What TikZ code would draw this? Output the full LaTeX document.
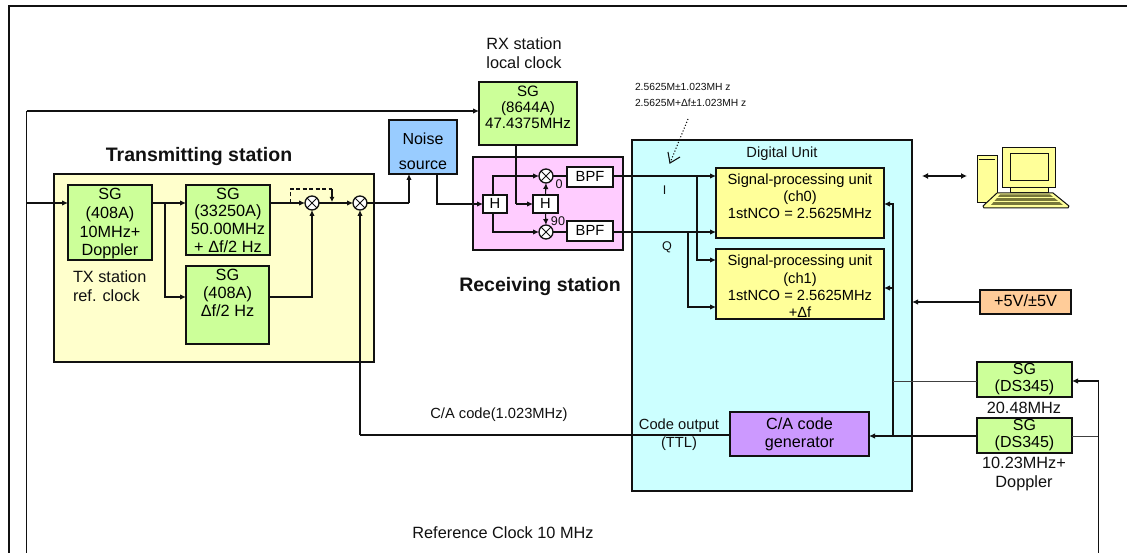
\documentclass[tikz,border=0pt]{standalone}
\usepackage{fontspec}
\setmainfont{Liberation Sans}
\usetikzlibrary{arrows.meta}
\definecolor{panelY}{HTML}{FFFFCC}
\definecolor{sgG}{HTML}{CCFF99}
\definecolor{noiseB}{HTML}{99CCFF}
\definecolor{pinkP}{HTML}{FFCCFF}
\definecolor{cyanD}{HTML}{CCFFFF}
\definecolor{sigY}{HTML}{FFFF99}
\definecolor{purpC}{HTML}{CC99FF}
\definecolor{orngV}{HTML}{FFCC99}
\definecolor{inkK}{HTML}{111111}
\definecolor{olv}{HTML}{77773A}
% #1 = font size, #2 = vertical offset, #3 = line distance, #4 = lines
\newcommand{\tl}[4][14.7]{\raisebox{\dimexpr#2pt-5pt\relax}[0pt][0pt]{\fontsize{#1pt}{#3pt}\selectfont\begin{tabular}{@{}c@{}}#4\end{tabular}}}
\tikzset{
  x=1pt,y=-1pt,
  base/.style={draw=inkK,inner sep=0pt,outer sep=0pt,line width=1.9pt,anchor=center},
  block/.style n args={3}{base,fill=#1,minimum width=#2pt,minimum height=#3pt},
  lbl/.style={inner sep=0pt,outer sep=0pt,font=\fontsize{14.7pt}{18pt}\selectfont,text=inkK,align=center},
  big/.style={lbl,font=\fontsize{16.3pt}{18pt}\selectfont},
  small/.style={lbl,font=\fontsize{10.3pt}{16pt}\selectfont,align=left},
  head/.style={lbl,font=\fontsize{19.5pt}{22pt}\selectfont\bfseries},
  wire/.style={draw=inkK,line width=1.1pt},
  arr/.style={wire,-{Latex[length=6pt,width=5.5pt]}},
  mixer/.style={circle,draw=inkK,fill=white,line width=1.3pt,minimum size=14pt,inner sep=0pt,outer sep=0pt,
    path picture={\draw[line width=1pt,draw=inkK]
      (path picture bounding box.north west)--(path picture bounding box.south east)
      (path picture bounding box.north east)--(path picture bounding box.south west);}},
}
\begin{document}
\begin{tikzpicture}
\useasboundingbox (0,0) rectangle (1127,553);
\fill[white] (0,0) rectangle (1127,553);
% frame
\coordinate (fa) at (9,553); \coordinate (fb) at (9,6); \coordinate (fc) at (1127,6);
\draw[draw=inkK,line width=1.8pt] (fa)--(fb)--(fc);
% panels
\node[base,fill=panelY,line width=1.2pt,minimum width=320pt,minimum height=188pt] (tx) at (214,268) {};
\node[base,fill=pinkP,minimum width=150pt,minimum height=93pt] (rx) at (548,203.5) {};
\node[base,fill=cyanD,minimum width=280pt,minimum height=351pt] (du) at (772,315.5) {};
% TX blocks
\node[block={sgG}{84}{75}] (sg1) at (110,222.5) {\tl[16.2]{-1}{18.7}{SG\\(408A)\\10MHz+\\Doppler}};
\node[block={sgG}{84}{70}] (sg2) at (228,220) {\tl[16.3]{-1.5}{17.6}{SG\\(33250A)\\50.00MHz\\+ Δf/2 Hz}};
\node[block={sgG}{83}{78}] (sg3) at (227.5,305) {\tl[16.3]{11}{18}{SG\\(408A)\\Δf/2 Hz}};
\node[mixer] (m1) at (312,203) {};
\node[mixer] (m2) at (360,203) {};
% RX blocks
\node[block={noiseB}{68}{54}] (noise) at (423,147) {\tl[16]{-4}{25.5}{Noise\\source}};
\node[block={sgG}{98}{63}] (sg4) at (528,113.5) {\tl[15.1]{5.5}{16}{SG\\(8644A)\\47.4375MHz}};
\node[block={white}{24}{18},line width=1.2pt] (h1) at (495,204) {\tl{0}{18}{H}};
\node[block={white}{25}{18},line width=1.2pt] (h2) at (545.5,204) {\tl{0}{18}{H}};
\node[mixer] (m3) at (546,176) {};
\node[mixer] (m4) at (546,232) {};
\node[block={white}{46}{20}] (bpf1) at (590,177) {\tl{0}{18}{BPF}};
\node[block={white}{46}{20}] (bpf2) at (590,231) {\tl{0}{18}{BPF}};
% digital blocks
\node[block={sigY}{168}{70}] (sig0) at (800,203) {\tl{6}{17}{Signal-processing unit\\(ch0)\\1stNCO = 2.5625MHz}};
\node[block={sigY}{168}{70}] (sig1) at (800,284) {\tl{-3}{17.3}{Signal-processing unit\\(ch1)\\1stNCO = 2.5625MHz\\+Δf}};
\node[block={purpC}{139}{44}] (ca) at (799.5,434) {\tl[16.2]{0}{18.5}{C/A code\\generator}};
\node[block={orngV}{91}{24}] (pw) at (1025.5,302) {\tl[16.3]{0}{18}{+5V/±5V}};
\node[block={sgG}{95}{35}] (ds1) at (1024.5,379.5) {\tl[16]{0.5}{16}{SG\\(DS345)}};
\node[block={sgG}{95}{35}] (ds2) at (1024.5,435.5) {\tl[16]{0.5}{16}{SG\\(DS345)}};
% named free ends
\coordinate (rL) at (26.5,553);
\coordinate (rT) at (26.5,111);
\coordinate (rR) at (1098.5,553);
\coordinate (jTX) at (165,203);
\coordinate (yMix) at (312,297);
\coordinate (d0) at (290.5,203);
\coordinate (d1) at (290.5,189);
\coordinate (d2) at (332,189);
\coordinate (d3) at (332,202);
\coordinate (jN) at (409,203);
\coordinate (jH) at (437,204);
\coordinate (jLO) at (516,204);
\coordinate (jH1) at (493,204);
\coordinate (jI) at (697,176);
\coordinate (jQ) at (688,232);
\coordinate (jC) at (893,436);
\coordinate (jR) at (1098.5,381);
\coordinate (jCode) at (360,435);
\coordinate (pcA) at (922,176);
\coordinate (pcB) at (967,176);
% reference clock
\draw[wire] (rL)--(rT);
\draw[arr] (rT)--(rT-|sg4.west);
\draw[arr] (rL|-jTX)--(jTX-|sg1.west);
% TX wires
\draw[arr] (sg1.east|-jTX)--(sg2.west|-jTX);
\draw[arr] (jTX)|-(sg3.west|-yMix);
\draw[arr] (sg2.east|-jTX)--(m1.west);
\draw[arr] (sg3.east|-yMix)-|(m1.south);
\draw[arr] (m1.east)--(m2.west);
\draw[wire,dashed,dash pattern=on 4pt off 2.5pt] (d0)--(d1)--(d2);
\draw[wire,-{Latex[length=5pt,width=5pt]}] (d2)--(d3);
\draw[wire] (m2.east)--(jN);
\draw[arr] (jN)--(jN|-noise.south);
\draw[wire] (ca.west|-jCode)--(jCode);
\draw[arr] (jCode)--(m2.south);
% RX wires
\draw[arr] (jH|-noise.south)--(jH)--(h1.west);
\draw[wire] (sg4.south-|jLO)--(jLO);
\draw[arr] (jLO)--(h2.west);
\draw[arr] (jH1|-h1.north)|-(m3.west);
\draw[arr] (jH1|-h1.south)|-(m4.west);
\draw[arr] (h2.north)--(m3.south);
\draw[arr] (h2.south)--(m4.north);
\draw[wire] (m3.east)--(bpf1.west|-m3.east);
\draw[wire] (m4.east)--(bpf2.west|-m4.east);
\draw[arr] (bpf1.east|-jI)--(sig0.west|-jI);
\draw[arr] (bpf2.east|-jQ)--(sig0.west|-jQ);
\draw[arr] (jI)|-(sig1.west|-0,260);
\draw[arr] (jQ)|-(sig1.west|-0,307);
% digital inputs
\draw[arr] (jC)|-(sig0.east|-0,204);
\draw[arr] (jC|-0,288)--(sig1.east|-0,288);
\draw[arr,line width=1.4pt] (ds2.west|-jC)--(ca.east|-jC);
\draw[arr,line width=1.4pt] (pw.west)--(du.east|-pw.west);
\draw[wire,line width=.9pt,draw=black!75] (ds1.west|-jR)--(jC|-jR);
\draw[wire,line width=1pt,draw=black!75] (ds2.east|-jC)--(rR|-jC);
\draw[wire] (rR)--(jR);
\draw[arr] (jR)--(ds1.east|-jR);
\draw[{Latex[length=6pt,width=6pt]}-{Latex[length=6pt,width=6pt]},wire,line width=1.4pt] (pcA)--(pcB);
% dotted arrow
\coordinate (da) at (688,119); \coordinate (db) at (670,163);
\draw[draw=inkK,line width=1.1pt,dotted,line cap=butt] (da)--(db);
\draw[draw=inkK,line width=1.1pt] (668,152)--(670,163)--(680,157);
% computer
\begin{scope}[draw=inkK,line width=1pt,fill=sigY]
\filldraw (977,155.5) rectangle (997,203);
\draw[line width=1.4pt] (979,159.5)--(995,159.5);
\filldraw (1002,148) rectangle (1055,188);
\filldraw (1010,154) rectangle (1048,181);
\filldraw (1010,188) rectangle (1048,193);
\filldraw[line join=round] (997,193)--(1053,193)--(1069,206)--(1068,208)--(984,208)--(983,206)--cycle;
\fill[olv] (1000,194.5)--(1050,194.5)--(1063,205)--(991,205)--cycle;
\draw[draw=sigY,line width=1pt] (996,198)--(1055,198) (992,202)--(1059,202);
\end{scope}
% labels
\node[head] (ltx) at (199,157) {Transmitting station};
\node[head] (lrx) at (540,287) {Receiving station};
\node[big,align=left,anchor=west] (ltxs) at (73,286.5) {TX station\\[0.8pt]ref. clock};
\node[big] (lrxs) at (524,53.5) {RX station\\[1.2pt]local clock};
\node[small,anchor=west] (lfr) at (635,95) {2.5625M±1.023MH z\\2.5625M+Δf±1.023MH z};
\node[lbl] (ldu) at (782,154) {Digital Unit};
\node[lbl,font=\fontsize{12.6pt}{14pt}\selectfont] (lI) at (664.5,190.5) {I};
\node[lbl,font=\fontsize{12.6pt}{14pt}\selectfont] (lQ) at (667,247) {Q};
\node[lbl,font=\fontsize{12.6pt}{14pt}\selectfont] (l0) at (559,184) {0};
\node[lbl,font=\fontsize{12.6pt}{14pt}\selectfont] (l90) at (558,221) {90};
\node[lbl] (lca) at (499,415) {C/A code(1.023MHz)};
\node[big] (lref) at (503,533) {Reference Clock 10 MHz};
\node[lbl] (lco) at (679,426) {Code output};
\node[lbl] (lttl) at (679,444) {(TTL)};
\node[big] (l20) at (1024,408) {20.48MHz};
\node[big] (l10) at (1024,473.5) {10.23MHz+\\[1pt]Doppler};
\end{tikzpicture}
\end{document}
